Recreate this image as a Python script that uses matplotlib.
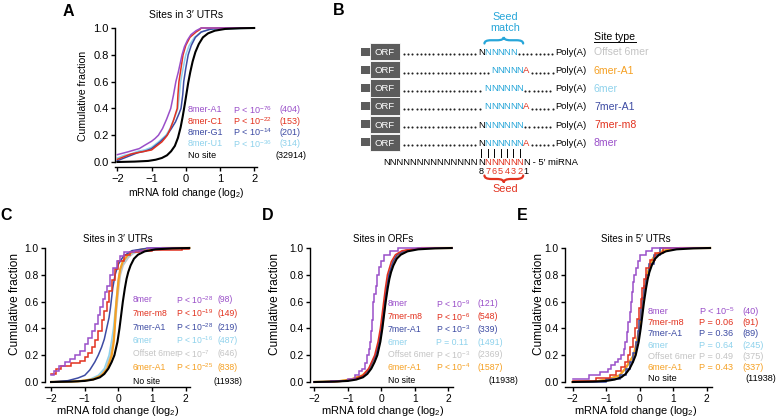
import numpy as np
import matplotlib as mpl
mpl.use('agg')
import matplotlib.pyplot as plt
from matplotlib.path import Path
from matplotlib.patches import PathPatch, Rectangle

plt.rcParams['font.family'] = ['Liberation Sans', 'DejaVu Sans']
plt.rcParams['mathtext.fontset'] = 'custom'
plt.rcParams['mathtext.rm'] = 'Liberation Sans'
plt.rcParams['mathtext.it'] = 'Liberation Sans:italic'
plt.rcParams['mathtext.bf'] = 'Liberation Sans:bold'

W, H = 777, 418

PURPLE = '#9a4fc9'
RED = '#e2321f'
BLUE = '#3d4ba3'
CYAN = '#8fd2ec'
GREY = '#c4c4c4'
ORANGE = '#f5a023'
SEEDCYAN = '#27a6d9'

# ---------------- data ----------------
# panel A: sites in 3' UTRs, 8mer with different 1st nucleotide
a_sites = ['8mer-A1', '8mer-C1', '8mer-G1', '8mer-U1']
a_colors = [PURPLE, RED, BLUE, CYAN]
a_pvals = ['P < 10$^{-76}$', 'P < 10$^{-22}$', 'P < 10$^{-14}$', 'P < 10$^{-36}$']
a_counts = [404, 153, 201, 314]
a_nosite_count = 32914
a_x = {
    '8mer-A1': [-2.0, -1.85, -1.7, -1.5, -1.36, -1.2, -1.0, -0.9, -0.8, -0.68, -0.56, -0.44,
                -0.36, -0.29, -0.22, -0.16, -0.11, -0.04, 0.05, 0.15, 0.3, 0.45, 2.0],
    '8mer-C1': [-2.0, -1.8, -1.6, -1.4, -1.2, -1.0, -0.85, -0.7, -0.6, -0.54, -0.45, -0.36,
                -0.3, -0.25, -0.23, -0.2, -0.14, -0.08, 0.0, 0.12, 0.3, 0.42, 0.45, 2.0],
    '8mer-G1': [-2.0, -1.8, -1.6, -1.4, -1.2, -1.0, -0.75, -0.55, -0.42, -0.3, -0.2, -0.14,
                -0.09, -0.06, 0.0, 0.07, 0.16, 0.28, 0.45, 0.7, 1.0, 2.0],
    '8mer-U1': [-2.0, -1.8, -1.6, -1.4, -1.2, -1.0, -0.8, -0.58, -0.46, -0.38, -0.3, -0.23,
                -0.19, -0.15, -0.08, 0.0, 0.1, 0.25, 0.45, 0.7, 2.0],
}
a_f = {
    '8mer-A1': [0.055, 0.065, 0.075, 0.09, 0.1, 0.125, 0.155, 0.175, 0.2, 0.25, 0.32, 0.4,
                0.5, 0.6, 0.67, 0.74, 0.8, 0.86, 0.91, 0.95, 0.98, 1.0, 1.0],
    '8mer-C1': [0.02, 0.04, 0.06, 0.07, 0.08, 0.09, 0.12, 0.15, 0.18, 0.2, 0.25, 0.31,
                0.36, 0.4, 0.5, 0.6, 0.7, 0.8, 0.87, 0.93, 0.97, 0.99, 1.0, 1.0],
    '8mer-G1': [0.01, 0.03, 0.05, 0.07, 0.08, 0.1, 0.15, 0.2, 0.25, 0.3, 0.36, 0.4,
                0.5, 0.6, 0.7, 0.8, 0.87, 0.93, 0.97, 0.99, 1.0, 1.0],
    '8mer-U1': [0.03, 0.05, 0.06, 0.08, 0.09, 0.11, 0.15, 0.2, 0.25, 0.3, 0.35, 0.4,
                0.5, 0.6, 0.7, 0.8, 0.87, 0.93, 0.97, 0.99, 1.0],
}
a_nosite_x = [-2.0, -1.5, -1.1, -0.88, -0.7, -0.55, -0.43, -0.32, -0.23, -0.15, -0.09, -0.03,
              0.02, 0.07, 0.13, 0.2, 0.28, 0.38, 0.5, 0.65, 0.85, 1.15, 1.6, 2.0]
a_nosite_f = [0.0, 0.003, 0.008, 0.017, 0.03, 0.05, 0.08, 0.12, 0.18, 0.26, 0.34, 0.43,
              0.51, 0.59, 0.67, 0.75, 0.82, 0.88, 0.93, 0.96, 0.98, 0.993, 0.998, 1.0]

# panels C-E: canonical site types
site_types = ['8mer', '7mer-m8', '7mer-A1', '6mer', 'Offset 6mer', '6mer-A1']
site_colors = [PURPLE, RED, BLUE, CYAN, GREY, ORANGE]
nosite_count = 11938
nosite_x = [-2.0, -1.4, -1.0, -0.75, -0.55, -0.42, -0.3, -0.2, -0.12, -0.03, 0.03, 0.08,
            0.13, 0.19, 0.24, 0.29, 0.36, 0.46, 0.58, 0.78, 1.1, 1.6, 2.1]
nosite_f = [0.0, 0.003, 0.008, 0.018, 0.035, 0.06, 0.1, 0.15, 0.2, 0.3, 0.4, 0.5,
            0.6, 0.7, 0.77, 0.82, 0.87, 0.92, 0.95, 0.975, 0.99, 0.997, 1.0]

c_pvals = ['P < 10$^{-28}$', 'P < 10$^{-19}$', 'P < 10$^{-28}$', 'P < 10$^{-16}$',
           'P < 10$^{-7}$', 'P < 10$^{-25}$']
c_counts = [98, 149, 219, 487, 646, 838]
c_x = {
    '8mer': [-2.0, -1.9, -1.75, -1.6, -1.45, -1.3, -1.15, -1.0, -0.9, -0.8, -0.7, -0.62,
             -0.55, -0.47, -0.4, -0.33, -0.25, -0.15, -0.05, 0.05, 0.15, 0.45, 0.85, 2.1],
    '7mer-m8': [-2.0, -1.85, -1.7, -1.4, -1.15, -1.0, -0.9, -0.8, -0.7, -0.6, -0.5, -0.42,
                -0.35, -0.28, -0.2, -0.1, 0.0, 0.15, 0.35, 0.6, 1.0, 1.9, 2.1],
    '7mer-A1': [-2.0, -1.5, -1.2, -1.0, -0.85, -0.7, -0.6, -0.5, -0.42, -0.35, -0.28, -0.24,
                -0.17, -0.1, 0.0, 0.15, 0.4, 0.9, 2.1],
    '6mer': [-2.0, -1.2, -0.85, -0.6, -0.42, -0.28, -0.21, -0.15, -0.11, -0.07, -0.03, 0.02,
             0.1, 0.25, 0.4, 0.7, 1.3, 2.1],
    'Offset 6mer': [-2.0, -1.2, -0.8, -0.55, -0.38, -0.24, -0.17, -0.11, -0.07, -0.03, 0.01,
                    0.06, 0.14, 0.3, 0.45, 0.75, 1.3, 2.1],
    '6mer-A1': [-2.0, -1.2, -0.75, -0.5, -0.33, -0.2, -0.14, -0.11, -0.09, -0.06, -0.03,
                0.0, 0.05, 0.13, 0.28, 0.45, 0.7, 1.3, 2.1],
}
c_f = {
    '8mer': [0.05, 0.08, 0.12, 0.15, 0.17, 0.2, 0.23, 0.28, 0.33, 0.38, 0.43, 0.5,
             0.56, 0.62, 0.67, 0.72, 0.8, 0.85, 0.9, 0.94, 0.97, 0.98, 1.0, 1.0],
    '7mer-m8': [0.06, 0.1, 0.12, 0.14, 0.16, 0.19, 0.22, 0.26, 0.31, 0.38, 0.46, 0.53,
                0.6, 0.68, 0.76, 0.84, 0.9, 0.95, 0.97, 0.98, 0.985, 0.99, 1.0],
    '7mer-A1': [0.0, 0.01, 0.03, 0.05, 0.09, 0.15, 0.2, 0.26, 0.32, 0.4, 0.48, 0.55,
                0.7, 0.8, 0.88, 0.94, 0.98, 1.0, 1.0],
    '6mer': [0.0, 0.005, 0.02, 0.05, 0.1, 0.2, 0.3, 0.4, 0.5, 0.6, 0.7, 0.8,
             0.87, 0.93, 0.96, 0.985, 1.0, 1.0],
    'Offset 6mer': [0.0, 0.005, 0.02, 0.05, 0.1, 0.2, 0.3, 0.4, 0.5, 0.6, 0.7,
                    0.8, 0.87, 0.93, 0.96, 0.985, 1.0, 1.0],
    '6mer-A1': [0.0, 0.005, 0.02, 0.05, 0.1, 0.2, 0.3, 0.4, 0.5, 0.6, 0.68, 0.76,
                0.84, 0.9, 0.95, 0.975, 0.99, 1.0, 1.0],
}

d_pvals = ['P < 10$^{-9}$', 'P < 10$^{-6}$', 'P < 10$^{-3}$', 'P = 0.11',
           'P < 10$^{-3}$', 'P < 10$^{-4}$']
d_counts = [121, 548, 339, 1491, 2369, 1587]
d_x = {
    '8mer': [-2.0, -1.5, -1.0, -0.8, -0.68, -0.58, -0.5, -0.42, -0.38, -0.34, -0.31, -0.28,
             -0.26, -0.21, -0.17, -0.13, -0.07, -0.01, 0.08, 0.25, 0.5, 2.1],
    '7mer-m8': [-2.0, -1.2, -0.8, -0.55, -0.38, -0.2, -0.1, -0.03, 0.02, 0.07, 0.12, 0.18,
                0.3, 0.42, 0.62, 1.2, 2.1],
    '7mer-A1': [-2.0, -1.2, -0.8, -0.52, -0.36, -0.17, -0.07, 0.0, 0.05, 0.1, 0.15, 0.22,
                0.35, 0.47, 0.7, 1.2, 2.1],
    '6mer': [-2.0, -1.3, -0.9, -0.56, -0.34, -0.14, -0.05, 0.02, 0.07, 0.12, 0.17, 0.24,
             0.37, 0.5, 0.72, 1.2, 2.1],
    'Offset 6mer': [-2.0, -1.3, -0.9, -0.55, -0.33, -0.13, -0.04, 0.03, 0.08, 0.13, 0.18,
                    0.25, 0.38, 0.51, 0.73, 1.2, 2.1],
    '6mer-A1': [-2.0, -1.3, -0.9, -0.56, -0.36, -0.15, -0.06, 0.01, 0.06, 0.11, 0.16, 0.23,
                0.36, 0.49, 0.72, 1.2, 2.1],
}
d_f = {
    '8mer': [0.0, 0.01, 0.02, 0.05, 0.08, 0.1, 0.14, 0.2, 0.25, 0.3, 0.38, 0.46,
             0.6, 0.66, 0.72, 0.8, 0.86, 0.9, 0.95, 0.98, 1.0, 1.0],
    '7mer-m8': [0.0, 0.005, 0.02, 0.05, 0.1, 0.2, 0.3, 0.4, 0.5, 0.6, 0.7, 0.8,
                0.9, 0.95, 0.98, 1.0, 1.0],
    '7mer-A1': [0.0, 0.005, 0.02, 0.05, 0.1, 0.2, 0.3, 0.4, 0.5, 0.6, 0.7, 0.8,
                0.9, 0.95, 0.98, 1.0, 1.0],
    '6mer': [0.0, 0.005, 0.02, 0.05, 0.1, 0.2, 0.3, 0.4, 0.5, 0.6, 0.7, 0.8,
             0.9, 0.95, 0.98, 1.0, 1.0],
    'Offset 6mer': [0.0, 0.005, 0.02, 0.05, 0.1, 0.2, 0.3, 0.4, 0.5, 0.6, 0.7, 0.8,
                    0.9, 0.95, 0.98, 1.0, 1.0],
    '6mer-A1': [0.0, 0.005, 0.02, 0.05, 0.1, 0.2, 0.3, 0.4, 0.5, 0.6, 0.7, 0.8,
                0.9, 0.95, 0.98, 1.0, 1.0],
}

e_pvals = ['P < 10$^{-5}$', 'P = 0.06', 'P = 0.36', 'P = 0.64', 'P = 0.49', 'P = 0.43']
e_counts = [40, 91, 89, 245, 375, 337]
e_x = {
    '8mer': [-2.0, -1.5, -1.2, -0.95, -0.85, -0.75, -0.65, -0.55, -0.48, -0.43, -0.38, -0.34,
             -0.3, -0.27, -0.24, -0.2, -0.17, -0.12, -0.05, 0.0, 0.2, 0.38, 2.1],
    '7mer-m8': [-2.0, -1.3, -0.9, -0.7, -0.55, -0.45, -0.35, -0.28, -0.2, -0.13, -0.07, -0.02,
                0.03, 0.08, 0.13, 0.2, 0.3, 0.45, 0.7, 2.1],
    '7mer-A1': [-2.0, -1.0, -0.6, -0.42, -0.3, -0.2, -0.12, -0.06, -0.01, 0.04, 0.08, 0.13,
                0.2, 0.28, 0.43, 0.6, 2.1],
    '6mer': [-2.0, -1.3, -0.95, -0.6, -0.42, -0.18, -0.08, -0.01, 0.04, 0.09, 0.15, 0.22,
             0.34, 0.47, 0.72, 1.2, 2.1],
    'Offset 6mer': [-2.0, -1.3, -0.95, -0.6, -0.42, -0.17, -0.08, 0.0, 0.05, 0.1, 0.16,
                    0.23, 0.35, 0.48, 0.72, 1.2, 2.1],
    '6mer-A1': [-2.0, -1.3, -0.95, -0.6, -0.43, -0.18, -0.09, -0.01, 0.04, 0.09, 0.15, 0.22,
                0.34, 0.47, 0.72, 1.2, 2.1],
}
e_f = {
    '8mer': [0.025, 0.05, 0.075, 0.1, 0.125, 0.15, 0.175, 0.2, 0.25, 0.3, 0.375, 0.45,
             0.525, 0.6, 0.675, 0.75, 0.8, 0.85, 0.9, 0.95, 0.975, 1.0, 1.0],
    '7mer-m8': [0.01, 0.03, 0.05, 0.08, 0.11, 0.15, 0.2, 0.26, 0.33, 0.4, 0.47, 0.55,
                0.62, 0.7, 0.77, 0.85, 0.91, 0.96, 1.0, 1.0],
    '7mer-A1': [0.0, 0.02, 0.05, 0.1, 0.15, 0.22, 0.3, 0.38, 0.46, 0.55, 0.63, 0.72,
                0.8, 0.88, 0.95, 1.0, 1.0],
    '6mer': [0.0, 0.005, 0.02, 0.05, 0.1, 0.2, 0.3, 0.4, 0.5, 0.6, 0.7, 0.8,
             0.9, 0.95, 0.98, 1.0, 1.0],
    'Offset 6mer': [0.0, 0.005, 0.02, 0.05, 0.1, 0.2, 0.3, 0.4, 0.5, 0.6, 0.7, 0.8,
                    0.9, 0.95, 0.98, 1.0, 1.0],
    '6mer-A1': [0.0, 0.005, 0.02, 0.05, 0.1, 0.2, 0.3, 0.4, 0.5, 0.6, 0.7, 0.8,
                0.9, 0.95, 0.98, 1.0, 1.0],
}

# panel B schematic: per site type, what sits in the 8 aligned columns
# k = unpaired N, c = seed-matched N, a = A opposite position 1, . = spacer, ' ' = gap
b_sites = ['Offset 6mer', '6mer-A1', '6mer', '7mer-A1', '7mer-m8', '8mer']
b_colors = [GREY, ORANGE, CYAN, BLUE, RED, PURPLE]
b_pattern = ['kccccc  ', '..ccccca', '.cccccc.', '.cccccca', 'kcccccc.', 'kcccccca']

# ---------------- figure ----------------
fig = plt.figure(figsize=(W / 100, H / 100), dpi=100)
ov = fig.add_axes([0, 0, 1, 1], zorder=10)
ov.set_xlim(0, W)
ov.set_ylim(H, 0)
ov.axis('off')


def cdf_axes(left, top, bottom, xlim, scale, tick_fs):
    width = (xlim[1] - xlim[0]) * scale
    ax = fig.add_axes([left / W, 1 - bottom / H, width / W, (bottom - top) / H])
    ax.set_xlim(*xlim)
    ax.set_ylim(0, 1)
    ax.patch.set_alpha(0)
    ax.spines[['top', 'right']].set_visible(False)
    ax.spines['bottom'].set_position(('outward', 3.8))
    ax.spines['left'].set_bounds(0, 1)
    for s in ax.spines.values():
        s.set_linewidth(1.0)
    ax.set_xticks(range(-2, 3))
    ax.set_yticks(np.linspace(0, 1, 6))
    ax.set_yticklabels(['%.1f' % v for v in np.linspace(0, 1, 6)])
    ax.tick_params(direction='out', length=3, width=1.0, labelsize=tick_fs, pad=1.5)
    return ax


def draw_curve(ax, x, f, color, lw=1.1, steps=False, z=2):
    ax.plot(x, f, color=color, lw=lw, drawstyle='steps-post' if steps else 'default',
            clip_on=False, zorder=z, solid_joinstyle='miter')


def legend(names, colors, pvals, counts, nosite, xs, y0, dy, fs):
    x_name, x_p, x_n, x_end = xs
    for i, (nm, col, p, n) in enumerate(zip(names, colors, pvals, counts)):
        y = y0 + i * dy
        ov.text(x_name, y, nm, color=col, fontsize=fs, va='center', ha='left')
        ov.text(x_p, y, p, color=col, fontsize=fs, va='center', ha='left')
        ov.text(x_n, y, '(%d)' % n, color=col, fontsize=fs, va='center', ha='left')
    y = y0 + len(names) * dy
    ov.text(x_name, y, 'No site', color='k', fontsize=fs, va='center', ha='left')
    ov.text(x_end, y, '(%d)' % nosite, color='k', fontsize=fs, va='center', ha='right')


def labels(cx, title, title_y, xlab_y, ylab_x, ylab_y, fs_t, fs_x, fs_y):
    ov.text(cx, title_y, title, fontsize=fs_t, ha='center', va='baseline')
    ov.text(cx, xlab_y, 'mRNA fold change (log$_2$)', fontsize=fs_x, ha='center',
            va='baseline')
    ov.text(ylab_x, ylab_y, 'Cumulative fraction', fontsize=fs_y, rotation=90,
            ha='center', va='center')


# ---- panel A ----
axA = cdf_axes(115, 28, 162, (-2.07, 2.09), 34.2, 8.0)
for name, col in zip(a_sites[::-1], a_colors[::-1]):
    draw_curve(axA, a_x[name], a_f[name], col)
draw_curve(axA, a_nosite_x, a_nosite_f, 'k', lw=1.5, z=3)
labels(186, 'Sites in 3\u2032 UTRs', 17.5, 195.5, 83, 96, 7.5, 7.5, 7.6)
legend(a_sites, a_colors, a_pvals, a_counts, a_nosite_count,
       (188, 233, 279, 306), 110, 11.3, 6.5)

# ---- panels C-E ----
panels = [
    (45, (-2.18, 2.12), 33.7, c_x, c_f, c_pvals, c_counts, 'Sites in 3\u2032 UTRs',
     118, 15, (133, 176, 218, 242), 300, 13.5, 6.2, ['8mer', '7mer-m8']),
    (310, (-2.13, 2.14), 33.5, d_x, d_f, d_pvals, d_counts, 'Sites in ORFs',
     383, 275, (388, 436, 478, 518), 304, 12.7, 6.3, ['8mer']),
    (565, (-2.23, 2.16), 33.5, e_x, e_f, e_pvals, e_counts, 'Sites in 5\u2032 UTRs',
     636, 539, (648, 699, 742, 776), 311.5, 11.2, 6.6, ['8mer', '7mer-m8', '7mer-A1']),
]
order = ['Offset 6mer', '6mer', '6mer-A1', '7mer-A1', '7mer-m8', '8mer']
for (left, xlim, scale, xs, fs_, pv, cn, title, cx, ylx, lxs, ly0, ldy, lfs,
     stepped) in panels:
    ax = cdf_axes(left, 248, 382, xlim, scale, 7.4)
    for name in order:
        col = site_colors[site_types.index(name)]
        lw = 1.6 if name == '6mer-A1' else 1.1
        draw_curve(ax, xs[name], fs_[name], col, lw=lw, steps=name in stepped)
    draw_curve(ax, nosite_x, nosite_f, 'k', lw=1.5, z=3)
    labels(cx, title, 242, 414, ylx, 304, 7.0, 7.9, 8.6)
    legend(site_types, site_colors, pv, cn, nosite_count, lxs, ly0, ldy, lfs)

# ---- panel letters ----
for letter, x, y in [('A', 63, 15.5), ('B', 333, 15), ('C', 0.5, 220),
                     ('D', 261.5, 220), ('E', 517, 220)]:
    ov.text(x, y, letter, fontsize=11.5, fontweight='bold', ha='left', va='baseline')

# ---- panel B schematic ----
colw = 6.45
col0 = 478.0  # left edge of aligned column 0 (miRNA position 8)


def colc(k):
    return col0 + (k + 0.5) * colw


def dots(x1, x2, y):
    xx = np.arange(x1, x2, 4.2)
    ov.plot(xx, np.full_like(xx, y), ls='none', marker='o', ms=1.5, mew=0,
            color='#222222')


def brace(x0, x1, y, h, color):
    xm = (x0 + x1) / 2
    r = min(abs(h), (x1 - x0) / 4)
    ym = y + h / 2
    verts = [(x0, y), (x0, ym), (x0 + r, ym), (xm - r, ym), (xm, ym), (xm, y + h),
             (xm, ym), (xm + r, ym), (x1 - r, ym), (x1, ym), (x1, y)]
    codes = [Path.MOVETO, Path.CURVE3, Path.CURVE3, Path.LINETO, Path.CURVE3, Path.CURVE3,
             Path.CURVE3, Path.CURVE3, Path.LINETO, Path.CURVE3, Path.CURVE3]
    ov.add_patch(PathPatch(Path(verts, codes), fill=False, lw=1.6, color=color,
                           capstyle='round'))


fs_row = 6.8
for i, (site, col, pat) in enumerate(zip(b_sites, b_colors, b_pattern)):
    yc = 51.7 + i * 18.1
    yb = yc + 3.4
    ov.add_patch(Rectangle((361, yc - 4), 10, 8, color='#5c5c5c', lw=0))
    ov.add_patch(Rectangle((370, yc - 8.6), 30, 17.2, facecolor='#5c5c5c',
                           edgecolor='white', lw=0.6))
    ov.text(385, yb, 'ORF', color='white', fontsize=fs_row, ha='center', va='baseline')
    letters = [k for k, ch in enumerate(pat) if ch in 'kca']
    first, last = letters[0], letters[-1]
    dots(404, col0 + first * colw - 1.5, yb - 0.7)
    dots(col0 + (last + 1) * colw + 2.0, 553, yb - 0.7)
    for k, ch in enumerate(pat):
        if ch == 'k':
            ov.text(colc(k), yb, 'N', color='k', fontsize=fs_row, ha='center', va='baseline')
        elif ch == 'c':
            ov.text(colc(k), yb, 'N', color=SEEDCYAN, fontsize=fs_row, ha='center',
                    va='baseline')
        elif ch == 'a':
            ov.text(colc(k), yb, 'A', color=RED, fontsize=fs_row, ha='center', va='baseline')
    ov.text(555, yb, 'Poly(A)', color='k', fontsize=fs_row, ha='left', va='baseline')
    ov.text(594, yc + 3.7, site, color=col, fontsize=7.6, ha='left', va='baseline')

# header
ov.text(594, 39.5, 'Site type', fontsize=7.6, ha='left', va='baseline')
ov.plot([594, 636], [42, 42], color='k', lw=0.7)
ov.text(505, 19.5, 'Seed', color=SEEDCYAN, fontsize=7.8, ha='center', va='baseline')
ov.text(505, 31, 'match', color=SEEDCYAN, fontsize=7.8, ha='center', va='baseline')
brace(col0 + colw, col0 + 7 * colw, 43.5, -6.5, SEEDCYAN)

# miRNA line
ym = 165.0
ov.text(col0, ym, 'N' * 14, fontsize=fs_row, ha='right', va='baseline')
for k in range(8):
    ov.text(colc(k), ym, 'N', color=RED if 1 <= k <= 6 else 'k', fontsize=fs_row,
            ha='center', va='baseline')
ov.text(col0 + 8 * colw + 0.5, ym, ' - 5\u2032 miRNA', fontsize=fs_row, ha='left',
        va='baseline')
for k in range(7):
    ov.plot([colc(k), colc(k)], [148.5, 156.5], color='k', lw=0.7)
for k, dg in enumerate('87654321'):
    ov.text(colc(k), 174.5, dg, color=RED if 1 <= k <= 6 else 'k', fontsize=6.6,
            ha='center', va='baseline')
brace(col0 + colw, col0 + 7 * colw, 175.5, 7, RED)
ov.text(505, 191.5, 'Seed', color=RED, fontsize=7.8, ha='center', va='baseline')

fig.savefig('out.png', dpi=100)
